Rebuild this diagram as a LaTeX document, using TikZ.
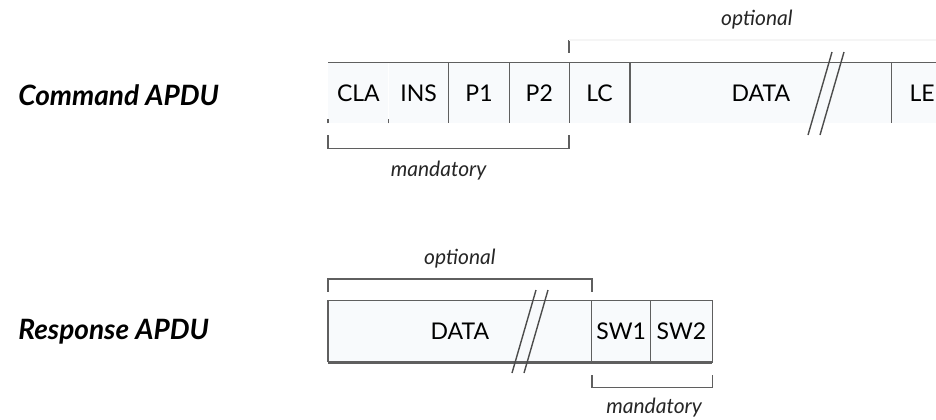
\documentclass[tikz,border=0pt]{standalone}
\usepackage{fontspec}
\setmainfont{Lato}
\usepackage{xcolor}
\usepackage{tikz}
\usetikzlibrary{positioning}

\definecolor{cellfill}{RGB}{248,250,252}
\definecolor{rulegray}{RGB}{95,95,95}

\begin{document}
\begin{tikzpicture}[
    node distance=0pt,
    field/.style={rectangle, fill=cellfill, inner sep=0pt,
                  minimum height=30pt, font=\fontsize{11.5}{13}\selectfont,
                  text=black},
    rowlabel/.style={anchor=west, inner sep=0pt, text=black,
                     font=\fontsize{14}{16}\selectfont\bfseries\itshape},
    note/.style={inner sep=0pt, text=black!85,
                 font=\fontsize{10.5}{12}\selectfont\itshape},
    rule/.style={draw=rulegray, line width=0.6pt},
    bracket/.style={draw=rulegray, line width=0.9pt},
    slash/.style={draw=black!70, line width=0.7pt}
]
\useasboundingbox (0,0) rectangle (468pt,-209.5pt);

%% --- ROW LABELS ---
\node[rowlabel] (cmdlabel) at (9pt,-47.5pt)  {Command APDU};
\node[rowlabel] (rsplabel) at (9pt,-166pt)   {Response APDU};

%% --- COMMAND APDU FIELDS ---
\node[field, minimum width=30pt, anchor=west] (cla) at (164pt,-46.5pt) {CLA};
\node[field, minimum width=29.5pt, right=of cla]  (ins)   {INS};
\node[field, minimum width=30pt,   right=of ins]  (p1)    {P1};
\node[field, minimum width=29.5pt, right=of p1]   (p2)    {P2};
\node[field, minimum width=30pt,   right=of p2]   (lc)    {LC};
\node[field, minimum width=130.5pt,right=of lc]   (cdata) {DATA};
\node[field, minimum width=30pt,   right=of cdata](le)    {LE};

%% top edge and dividers
\draw[rule] (cla.north west) -- (le.north east);
\draw[rule] (cla.south west) -- ++(0,2pt);
\draw[rule] (cla.south east) -- ++(0,2pt);
\draw[rule] (ins.north east) -- (ins.south east);
\draw[rule] (p1.north east) -- (p1.south east);
\draw[rule] (p2.north east) -- (p2.south east);
\draw[rule] (lc.north east) -- (lc.south east);
\draw[rule] (cdata.north east) -- (cdata.south east);

%% break in the data field
\draw[slash] ([xshift=101pt, yshift=20.5pt]cdata.west) -- ++(-12pt,-41.5pt);
\draw[slash] ([xshift=107pt, yshift=20.5pt]cdata.west) -- ++(-12pt,-41.5pt);

%% --- COMMAND BRACKETS ---
\coordinate (cmandL) at ([yshift=-12.5pt]cla.south west);
\coordinate (cmandR) at ([yshift=-12.5pt]p2.south east);
\draw[bracket] ([yshift=6.5pt]cmandL) -- (cmandL)
    -- node[note, below=6pt, xshift=-5pt] (cmandtxt) {mandatory} (cmandR)
    -- ([yshift=6.5pt]cmandR);

\coordinate (coptL) at ([yshift=11.5pt]lc.north west);
\coordinate (coptR) at ([yshift=11.5pt]le.north east);
\draw[bracket] ([yshift=-6.5pt]coptL) -- (coptL);
\draw[draw=black!4, line width=0.9pt] (coptL)
    -- node[note, above=5pt, xshift=-2pt] (copttxt) {optional} (coptR);

%% --- RESPONSE APDU FIELDS ---
\node[field, minimum width=131.5pt, minimum height=30.5pt, anchor=west]
    (rdata) at (164pt,-165.75pt) {DATA};
\node[field, minimum width=29pt, minimum height=30.5pt, right=of rdata] (sw1) {SW1};
\node[field, minimum width=30.5pt, minimum height=30.5pt, right=of sw1] (sw2) {SW2};

\draw[rule] (rdata.north east) -- (rdata.north west) -- (rdata.south west);
\draw[rule, line width=1.1pt] (rdata.south west) -- (rdata.south east);
\draw[rule] (sw1.north west) rectangle (sw2.south east);
\draw[rule] (sw1.north east) -- (sw1.south east);
\draw[rule, line width=1.1pt] (sw1.south west) -- (sw2.south east);

%% break in the data field
\draw[slash] ([xshift=104pt, yshift=20.75pt]rdata.west) -- ++(-12pt,-41.5pt);
\draw[slash] ([xshift=110pt, yshift=20.75pt]rdata.west) -- ++(-12pt,-41.5pt);

%% --- RESPONSE BRACKETS ---
\coordinate (roptL) at ([yshift=11pt]rdata.north west);
\coordinate (roptR) at ([yshift=11pt]rdata.north east);
\draw[bracket] ([yshift=-6.5pt]roptL) -- (roptL)
    -- node[note, above=5pt] (ropttxt) {optional} (roptR)
    -- ([yshift=-6.5pt]roptR);

\coordinate (rmandL) at ([yshift=-12.5pt]sw1.south west);
\coordinate (rmandR) at ([yshift=-12.5pt]sw2.south east);
\draw[bracket] ([yshift=6pt]rmandL) -- (rmandL)
    -- node[note, below=5pt, xshift=1pt] (rmandtxt) {mandatory} (rmandR)
    -- ([yshift=6pt]rmandR);

\end{tikzpicture}
\end{document}
